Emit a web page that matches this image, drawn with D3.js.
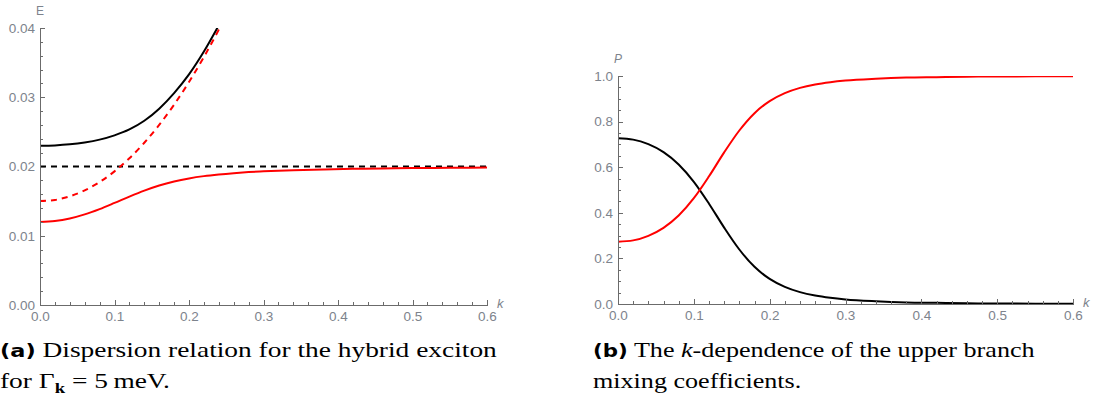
<!DOCTYPE html>
<html>
<head>
<meta charset="utf-8">
<script src="https://cdn.jsdelivr.net/npm/d3@7"></script>
<style>
  body { margin: 0; background: #fff; }
  svg { display: block; }
</style>
</head>
<body>
<script>
// ---- data ----
// (a) dispersion, E vs k
let kE = [0, 0.02, 0.04, 0.06, 0.08, 0.10, 0.12, 0.14, 0.16, 0.18, 0.20, 0.22, 0.24, 0.26, 0.28, 0.30, 0.34, 0.38, 0.42, 0.46, 0.50, 0.55, 0.60];
let upperE = [0.02300, 0.02305, 0.02320, 0.02347, 0.02388, 0.02450, 0.02535, 0.02660, 0.02835, 0.03060, 0.03330, 0.03660, 0.04040];
let lowerE = [0.01200, 0.01213, 0.01249, 0.01308, 0.01385, 0.01474, 0.01566, 0.01652, 0.01726, 0.01784, 0.01828, 0.01861, 0.01885, 0.01904, 0.01919, 0.01930, 0.01947, 0.01958, 0.01966, 0.01972, 0.01977, 0.01981, 0.01984];
let excitonE = [0.01500, 0.01517, 0.01569, 0.01655, 0.01775, 0.01930, 0.02119, 0.02343, 0.02601, 0.02893, 0.03220, 0.03581, 0.03977, 0.04407];
let photonK = [0, 0.6];
let photonE = [0.02, 0.02];

// (b) mixing coefficients, P vs k
let kP = [0, 0.02, 0.04, 0.06, 0.08, 0.10, 0.12, 0.14, 0.16, 0.18, 0.20, 0.22, 0.24, 0.26, 0.28, 0.30, 0.34, 0.38, 0.42, 0.46, 0.50, 0.55, 0.60];
let blackP = [0.727, 0.721, 0.701, 0.666, 0.612, 0.536, 0.440, 0.335, 0.239, 0.163, 0.110, 0.075, 0.052, 0.037, 0.027, 0.020, 0.012, 0.007, 0.005, 0.003, 0.002, 0.0015, 0.001];
let redP = [0.273, 0.279, 0.299, 0.334, 0.388, 0.464, 0.560, 0.665, 0.761, 0.837, 0.890, 0.925, 0.948, 0.963, 0.973, 0.980, 0.988, 0.993, 0.995, 0.997, 0.998, 0.9985, 0.999];

let xMajor = [0, 0.1, 0.2, 0.3, 0.4, 0.5, 0.6];
let eMajor = [0, 0.01, 0.02, 0.03, 0.04];
let pMajor = [0, 0.2, 0.4, 0.6, 0.8, 1.0];

const sans = "Liberation Sans, Arial, sans-serif";
const serif = "Liberation Serif, Times New Roman, serif";
const labelGray = "#7d838c";
const axisGray = "#6b6b6b";

const svg = d3.select("body").append("svg")
    .attr("width", 1093)
    .attr("height", 400);

function minors(lo, hi, step, majors) {
    let out = [];
    let n = Math.round((hi - lo) / step);
    for (let i = 0; i <= n; i++) {
        let v = +(lo + i * step).toFixed(6);
        if (!majors.some(m => Math.abs(m - v) < 1e-9)) out.push(v);
    }
    return out;
}

function styleAxis(sel) {
    sel.attr("font-size", 13.5).attr("font-family", sans);
    sel.selectAll("path, line").attr("stroke", axisGray).attr("shape-rendering", "crispEdges");
    sel.selectAll("text").attr("fill", labelGray);
}

function drawPanel(opt) {
    let x = d3.scaleLinear().domain([0, 0.6]).range(opt.xr);
    let y = d3.scaleLinear().domain(opt.yd).range(opt.yr);
    let g = svg.append("g");

    // clip so curves stop at the top of the axis
    g.append("clipPath").attr("id", opt.id)
        .append("rect")
        .attr("x", opt.xr[0]).attr("y", opt.yr[1])
        .attr("width", opt.xr[1] - opt.xr[0] + 2)
        .attr("height", opt.yr[0] - opt.yr[1]);

    let line = d3.line()
        .x(d => x(d[0]))
        .y(d => y(d[1]))
        .curve(d3.curveMonotoneX);

    let plot = g.append("g").attr("clip-path", "url(#" + opt.id + ")");
    opt.series.forEach(s => {
        plot.append("path")
            .datum(s.k.slice(0, s.v.length).map((k, i) => [k, s.v[i]]))
            .attr("d", line)
            .attr("fill", "none")
            .attr("stroke", s.color)
            .attr("stroke-width", 2)
            .attr("stroke-dasharray", s.dash || null);
    });

    // x axis
    g.append("g")
        .attr("transform", "translate(0," + opt.yr[0] + ")")
        .call(d3.axisBottom(x).tickValues(minors(0, 0.6, 0.02, xMajor)).tickSize(-3).tickSizeOuter(0).tickFormat(""))
        .call(styleAxis);
    g.append("g")
        .attr("transform", "translate(0," + opt.yr[0] + ")")
        .call(d3.axisBottom(x).tickValues(xMajor).tickSize(-5).tickSizeOuter(0).tickPadding(6).tickFormat(d3.format(".1f")))
        .call(styleAxis);

    // y axis
    g.append("g")
        .attr("transform", "translate(" + opt.xr[0] + ",0)")
        .call(d3.axisLeft(y).tickValues(minors(opt.yd[0], opt.yd[1], opt.minorStep, opt.yMajor)).tickSize(-3).tickSizeOuter(0).tickFormat(""))
        .call(styleAxis);
    g.append("g")
        .attr("transform", "translate(" + opt.xr[0] + ",0)")
        .call(d3.axisLeft(y).tickValues(opt.yMajor).tickSize(-5).tickSizeOuter(0).tickPadding(5).tickFormat(d3.format(opt.yFmt)))
        .call(styleAxis);

    // axis names
    g.append("text")
        .attr("x", opt.xr[0])
        .attr("y", opt.yr[1] - 13)
        .attr("text-anchor", "middle")
        .attr("font-family", sans)
        .attr("font-size", 12)
        .attr("font-style", opt.yItalic ? "italic" : "normal")
        .attr("fill", labelGray)
        .text(opt.yName);
    g.append("text")
        .attr("x", opt.xr[1] + 10)
        .attr("y", opt.yr[0] + 3)
        .attr("font-family", sans)
        .attr("font-size", 13)
        .attr("font-style", "italic")
        .attr("fill", labelGray)
        .text("k");
}

drawPanel({
    id: "clipA",
    xr: [40, 487], yr: [305, 28], yd: [0, 0.04],
    yMajor: eMajor, minorStep: 0.002, yFmt: ".2f",
    yName: "E", yItalic: false,
    series: [
        { k: photonK, v: photonE, color: "#000", dash: "6,5" },
        { k: kE, v: excitonE, color: "#ff0000", dash: "6,5" },
        { k: kE, v: upperE, color: "#000" },
        { k: kE, v: lowerE, color: "#ff0000" }
    ]
});

drawPanel({
    id: "clipB",
    xr: [618, 1073], yr: [304, 76], yd: [0, 1],
    yMajor: pMajor, minorStep: 0.05, yFmt: ".1f",
    yName: "P", yItalic: true,
    series: [
        { k: kP, v: blackP, color: "#000" },
        { k: kP, v: redP, color: "#ff0000" }
    ]
});

// captions, stretched so the first line spans the same width as in the reference
function caption(x0, y0, width, label, line1, line2) {
    let cg = svg.append("g")
        .attr("font-family", serif)
        .attr("font-size", 22)
        .attr("fill", "#000");
    let t1 = cg.append("text");
    t1.append("tspan")
        .attr("font-family", "DejaVu Sans, sans-serif")
        .attr("font-weight", "bold")
        .attr("font-size", 18)
        .text(label);
    line1.forEach(p => {
        t1.append("tspan").attr("font-style", p.it ? "italic" : "normal").text(p.t);
    });
    let t2 = cg.append("text").attr("y", 31);
    line2.forEach(p => {
        let s = t2.append("tspan").text(p.t);
        if (p.sub) {
            s.attr("dy", 5).attr("font-size", 15).attr("font-weight", "bold");
        } else if (p.up) {
            s.attr("dy", -5);
        }
    });
    let w = t1.node().getComputedTextLength();
    cg.attr("transform", "translate(" + x0 + "," + y0 + ") scale(" + (width / w) + ",1)");
}

caption(0, 357, 497, "(a)",
    [{ t: " Dispersion relation for the hybrid exciton" }],
    [{ t: "for \u0393" }, { t: "k", sub: true }, { t: " = 5\u2009meV.", up: true }]);

caption(593, 357, 442, "(b)",
    [{ t: " The " }, { t: "k", it: true }, { t: "-dependence of the upper branch" }],
    [{ t: "mixing coefficients." }]);
</script>
</body>
</html>
